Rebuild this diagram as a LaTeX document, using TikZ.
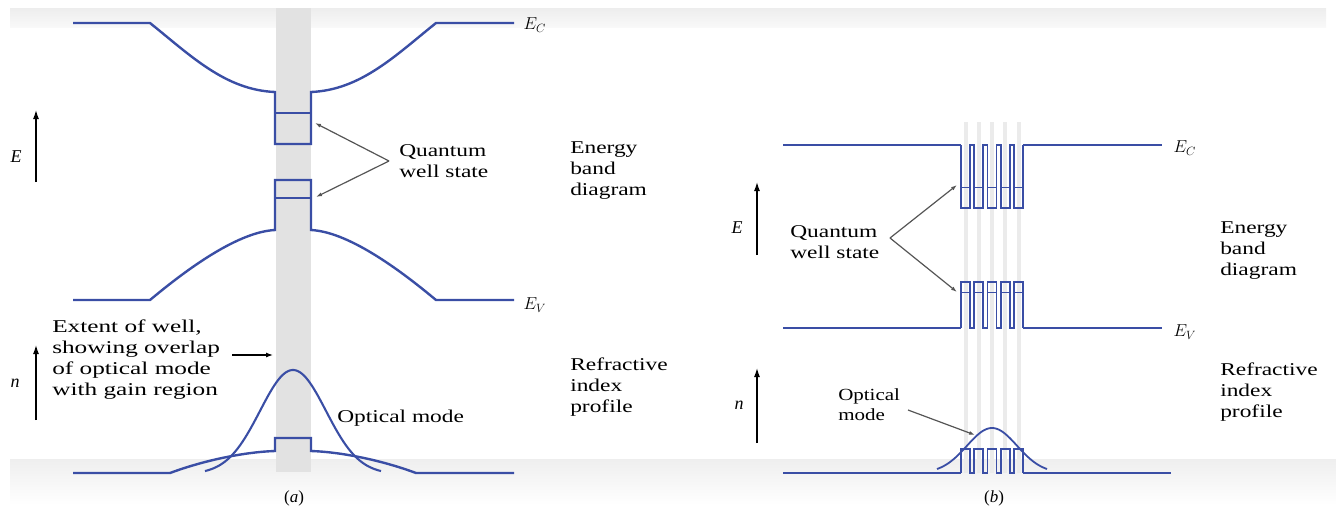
\documentclass[tikz,border=0pt]{standalone}
\usepackage{fontspec}
\setmainfont{Liberation Serif}
\usetikzlibrary{arrows.meta}
\definecolor{band}{RGB}{58,78,165}
\definecolor{wellgray}{RGB}{226,226,226}
\definecolor{arrgray}{RGB}{85,85,85}
\begin{document}
\begin{tikzpicture}[x=1pt,y=-1pt,
  bandline/.style={draw=band,line width=2.4pt,line join=miter},
  wellline/.style={draw=band,line width=1.6pt},
  thinband/.style={draw=band,line width=1.1pt},
  lbl/.style={font=\fontsize{18}{21}\selectfont,align=left,anchor=west,inner sep=0pt,xscale=1.3,transform shape},
  axlbl/.style={font=\fontsize{18}{21}\selectfont\itshape,inner sep=0pt},
  qarrow/.style={draw=arrgray,line width=1.2pt,-{Latex[length=6pt,width=4pt]}},
  axarrow/.style={draw=black,line width=1.3pt,-{Latex[length=9pt,width=6pt]}},
]
\useasboundingbox (0,0) rectangle (1336,512);
% background bands
\shade[top color=gray!14, bottom color=gray!5] (10,8) rectangle (1326,27);
\shade[top color=gray!13, bottom color=white] (10,459) rectangle (1336,505);
% ---------------- panel (a) ----------------
\fill[wellgray] (276,8) rectangle (311,472);
% conduction band
\draw[bandline] (73,23) -- (150,23) .. controls (190,55) and (225,90) .. (275,92) -- (275,144) -- (311,144) -- (311,92) .. controls (361,90) and (396,55) .. (436,23) -- (514,23);
\draw[thinband] (275,113) -- (311,113);
% valence band
\draw[bandline] (73,300) -- (150,300) .. controls (180,275) and (235,232) .. (275,230) -- (275,180) -- (311,180) -- (311,230) .. controls (351,232) and (406,275) .. (436,300) -- (514,300);
\draw[thinband] (275,198) -- (311,198);
% refractive index
\draw[bandline] (73,473) -- (170,473) .. controls (205,460) and (245,452) .. (275,451) -- (275,438) -- (311,438) -- (311,451) .. controls (341,452) and (381,460) .. (416,473) -- (514,473);
% optical mode
\draw[bandline,line width=2.1pt] plot[domain=205:381,samples=90,smooth] (\x,{474-104*exp(-((\x-293)^2)/2178)});
% labels
\node[anchor=west,font=\fontsize{18}{21}\selectfont] (ECa) at (520,25) {$E_C$};
\node[anchor=west,font=\fontsize{18}{21}\selectfont] (EVa) at (520,305) {$E_V$};
\coordinate (Ea0) at (36,182); \coordinate (Ea1) at (36,110);
\draw[axarrow] (Ea0) -- (Ea1);
\node[axlbl] (Ela) at (16,157) {E};
\coordinate (na0) at (36,420); \coordinate (na1) at (36,345);
\draw[axarrow] (na0) -- (na1);
\node[axlbl] (nla) at (15,383) {n};
\node[lbl] (qwa) at (399,161) {Quantum\\well state};
\coordinate (qaj) at (389,161);
\coordinate (qat1) at (315,123);
\coordinate (qat2) at (316,197);
\draw[qarrow] (qaj) -- (qat1);
\draw[qarrow] (qaj) -- (qat2);
\node[lbl] (eba) at (570,171) {Energy\\band\\diagram};
\node[lbl,xscale=1.08] (exa) at (52,360) {Extent of well,\\showing overlap\\of optical mode\\with gain region};
\coordinate (exa1) at (232,355); \coordinate (exa2) at (273,355);
\draw[draw=black,line width=1.2pt,-{Latex[length=7pt,width=5pt]}] (exa1) -- (exa2);
\node[lbl] (oma) at (337,418) {Optical mode};
\node[lbl] (ria) at (570,387) {Refractive\\index\\profile};
\node[axlbl,font=\fontsize{17}{20}\selectfont] (capa) at (294,498) {(\textit{a})};
% ---------------- panel (b) ----------------
\foreach \i in {0,...,4} {
  \fill[gray!16] ({963.5+13.25*\i},122) rectangle ({967.5+13.25*\i},473);
}
% conduction band
\draw[bandline,line width=2.2pt] (783,145) -- (961,145);
\draw[bandline,line width=2.2pt] (1023,145) -- (1162,145);
\draw[wellline] (961,145) foreach \i in {0,...,4} { -- ({961+13.25*\i},145) -- ({961+13.25*\i},208) -- ({970+13.25*\i},208) -- ({970+13.25*\i},145) };
\draw[wellline] (970,145) -- (974.25,145) (983.25,145) -- (987.5,145) (996.5,145) -- (1000.75,145) (1009.75,145) -- (1014,145);
\foreach \i in {0,...,4} { \draw[thinband,line width=0.9pt] ({961+13.25*\i},187) -- ({970+13.25*\i},187); }
% valence band
\draw[bandline,line width=2.2pt] (783,328) -- (961,328);
\draw[bandline,line width=2.2pt] (1023,328) -- (1162,328);
\draw[wellline] (961,328) foreach \i in {0,...,4} { -- ({961+13.25*\i},328) -- ({961+13.25*\i},282) -- ({970+13.25*\i},282) -- ({970+13.25*\i},328) };
\draw[wellline] (970,328) -- (974.25,328) (983.25,328) -- (987.5,328) (996.5,328) -- (1000.75,328) (1009.75,328) -- (1014,328);
\foreach \i in {0,...,4} { \draw[thinband,line width=0.9pt] ({961+13.25*\i},292) -- ({970+13.25*\i},292); }
% refractive index
\draw[bandline,line width=2.2pt] (783,473) -- (961,473);
\draw[bandline,line width=2.2pt] (1023,473) -- (1171,473);
\draw[wellline] (961,473) foreach \i in {0,...,4} { -- ({961+13.25*\i},473) -- ({961+13.25*\i},449) -- ({970+13.25*\i},449) -- ({970+13.25*\i},473) };
\draw[wellline] (970,473) -- (974.25,473) (983.25,473) -- (987.5,473) (996.5,473) -- (1000.75,473) (1009.75,473) -- (1014,473);
\draw[bandline,line width=1.8pt] plot[domain=937:1047,samples=80,smooth] (\x,{473-45*exp(-((\x-992)^2)/1250)});
% labels
\node[anchor=west,font=\fontsize{18}{21}\selectfont] (ECb) at (1170,148) {$E_C$};
\node[anchor=west,font=\fontsize{18}{21}\selectfont] (EVb) at (1170,332) {$E_V$};
\coordinate (Eb0) at (757,255); \coordinate (Eb1) at (757,182);
\draw[axarrow] (Eb0) -- (Eb1);
\node[axlbl] (Elb) at (737,228) {E};
\coordinate (nb0) at (757,443); \coordinate (nb1) at (757,368);
\draw[axarrow] (nb0) -- (nb1);
\node[axlbl] (nlb) at (739,405) {n};
\node[lbl] (qwb) at (790,242) {Quantum\\well state};
\coordinate (qbj) at (890,238);
\coordinate (qbt1) at (957,185);
\coordinate (qbt2) at (957,292);
\draw[qarrow] (qbj) -- (qbt1);
\draw[qarrow] (qbj) -- (qbt2);
\node[lbl] (ebb) at (1220,251) {Energy\\band\\diagram};
\node[lbl,font=\fontsize{17}{20}\selectfont,xscale=0.95] (omb) at (838,405) {Optical\\mode};
\coordinate (omb1) at (908,410); \coordinate (omb2) at (975,435);
\draw[qarrow] (omb1) -- (omb2);
\node[lbl] (rib) at (1220,392) {Refractive\\index\\profile};
\node[axlbl,font=\fontsize{17}{20}\selectfont] (capb) at (994,498) {(\textit{b})};
\end{tikzpicture}
\end{document}
